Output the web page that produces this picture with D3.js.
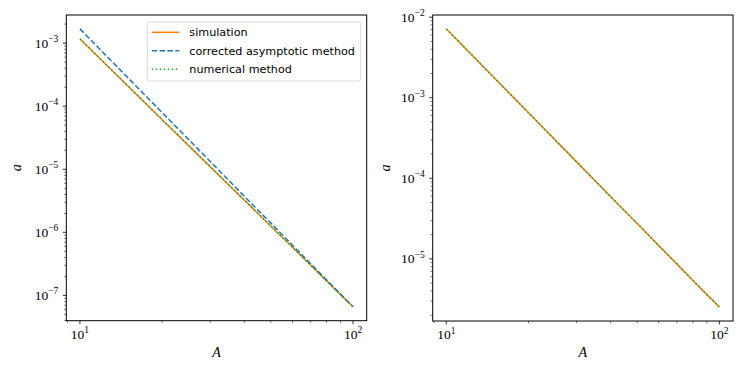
<!DOCTYPE html>
<html>
<head>
<meta charset="utf-8">
<script src="https://cdn.jsdelivr.net/npm/d3@7"></script>
<style>
  body { margin: 0; background: #fff; }
  svg { display: block; }
  .tick-label { font-family: "Liberation Serif", "DejaVu Serif", serif; font-size: 13.5px; fill: #000; }
  .axis-label { font-family: "Liberation Serif", "DejaVu Serif", serif; font-style: italic; font-size: 14px; fill: #000; }
  .legend-text { font-family: "DejaVu Sans", sans-serif; font-size: 11.2px; fill: #000; }
</style>
</head>
<body>
<div id="chart"></div>
<script>
// A values the curves were read at
const A = [10, 20, 30, 40, 50, 60, 70, 80, 90, 100];

// left panel
const leftSimulation = [1.16e-3, 6.1e-5, 1.09e-5, 3.23e-6, 1.25e-6, 5.8e-7, 3.0e-7, 1.7e-7, 1.03e-7, 6.6e-8];
const leftAsymptotic = [1.68e-3, 7.9e-5, 1.33e-5, 3.72e-6, 1.40e-6, 6.25e-7, 3.17e-7, 1.76e-7, 1.05e-7, 6.6e-8];
const leftNumerical  = [1.17e-3, 6.15e-5, 1.10e-5, 3.25e-6, 1.26e-6, 5.8e-7, 3.0e-7, 1.7e-7, 1.03e-7, 6.6e-8];

// right panel
const rightSimulation = [7.15e-3, 6.5e-4, 1.60e-4, 5.9e-5, 2.74e-5, 1.46e-5, 8.6e-6, 5.4e-6, 3.6e-6, 2.52e-6];
const rightNumerical  = [7.15e-3, 6.5e-4, 1.60e-4, 5.9e-5, 2.74e-5, 1.46e-5, 8.6e-6, 5.4e-6, 3.6e-6, 2.52e-6];

const legendLabels = ["simulation", "corrected asymptotic method", "numerical method"];

const W = 747, H = 374;
const svg = d3.select("#chart").append("svg").attr("width", W).attr("height", H);

const styles = {
  simulation: {color: "#ff7f0e", dash: null},
  asymptotic: {color: "#1f77b4", dash: "5.5,2.4"},
  numerical: {color: "#2ca02c", dash: "1.5,2.5"}
};

// log domain with matplotlib-like 5% margins
function logDomain(values) {
  const lo = Math.log10(d3.min(values)), hi = Math.log10(d3.max(values));
  const m = (hi - lo) * 0.05;
  return [Math.pow(10, lo - m), Math.pow(10, hi + m)];
}

function drawPanel(box, series, yLabelX) {
  const g = svg.append("g");
  const x = d3.scaleLog().domain(logDomain(A)).range([box.left, box.right]);
  const allY = series.flatMap(s => s.values);
  const y = d3.scaleLog().domain(logDomain(allY)).range([box.bottom, box.top]);

  const line = d3.line().x((d, i) => x(A[i])).y(d => y(d));

  series.forEach(s => {
    g.append("path")
      .datum(s.values)
      .attr("d", line)
      .attr("fill", "none")
      .attr("stroke", s.style.color)
      .attr("stroke-width", 1.5)
      .attr("stroke-dasharray", s.style.dash);
  });

  // frame
  g.append("rect")
    .attr("x", box.left).attr("y", box.top)
    .attr("width", box.right - box.left).attr("height", box.bottom - box.top)
    .attr("fill", "none").attr("stroke", "#000").attr("stroke-width", 1);

  // x ticks
  const [x0, x1] = x.domain();
  const xMinor = [];
  for (let e = Math.floor(Math.log10(x0)); e <= Math.ceil(Math.log10(x1)); e++) {
    for (let k = 1; k < 10; k++) {
      const v = k * Math.pow(10, e);
      if (v >= x0 && v <= x1) xMinor.push({v, major: k === 1, e});
    }
  }
  xMinor.forEach(t => {
    const px = x(t.v);
    g.append("line").attr("x1", px).attr("x2", px)
      .attr("y1", box.bottom).attr("y2", box.bottom + (t.major ? 3.5 : 2))
      .attr("stroke", "#000").attr("stroke-width", t.major ? 0.8 : 0.6);
    if (t.major) {
      const txt = g.append("text").attr("class", "tick-label")
        .attr("x", px).attr("y", box.bottom + 18).attr("text-anchor", "middle");
      txt.append("tspan").text("10");
      txt.append("tspan").attr("dy", -5.5).attr("font-size", "9.5px").text(t.e);
    }
  });

  // y ticks
  const [y0, y1] = y.domain();
  for (let e = Math.floor(Math.log10(y0)); e <= Math.ceil(Math.log10(y1)); e++) {
    for (let k = 1; k < 10; k++) {
      const v = k * Math.pow(10, e);
      if (v < y0 || v > y1) continue;
      const py = y(v);
      g.append("line").attr("x1", box.left).attr("x2", box.left - (k === 1 ? 3.5 : 2))
        .attr("y1", py).attr("y2", py)
        .attr("stroke", "#000").attr("stroke-width", k === 1 ? 0.8 : 0.6);
      if (k === 1) {
        const txt = g.append("text").attr("class", "tick-label")
          .attr("x", box.left - 8).attr("y", py + 4.5).attr("text-anchor", "end");
        txt.append("tspan").text("10");
        txt.append("tspan").attr("dy", -5.5).attr("font-size", "9.5px").text("\u2212" + (-e));
      }
    }
  }

  // axis labels
  g.append("text").attr("class", "axis-label")
    .attr("x", (box.left + box.right) / 2).attr("y", box.bottom + 36)
    .attr("text-anchor", "middle").text("A");
  g.append("text").attr("class", "axis-label")
    .attr("transform", `translate(${yLabelX},${(box.top + box.bottom) / 2}) rotate(-90)`)
    .attr("text-anchor", "middle").text("a");

  return {x, y};
}

drawPanel({left: 66.3, right: 366.7, top: 15, bottom: 320.7}, [
  {values: leftSimulation, style: styles.simulation},
  {values: leftAsymptotic, style: styles.asymptotic},
  {values: leftNumerical, style: styles.numerical}
], 21);

drawPanel({left: 432.7, right: 733, top: 15, bottom: 321}, [
  {values: rightSimulation, style: styles.simulation},
  {values: rightNumerical, style: styles.numerical}
], 390);

// legend on the left panel
const legend = svg.append("g");
legend.append("rect")
  .attr("x", 147.3).attr("y", 22).attr("width", 213.4).attr("height", 59)
  .attr("rx", 2.5).attr("fill", "#fff").attr("fill-opacity", 0.8)
  .attr("stroke", "#d6d6d6").attr("stroke-width", 0.9);
const legendStyles = [styles.simulation, styles.asymptotic, styles.numerical];
legendLabels.forEach((lab, i) => {
  const cy = 32.3 + i * 18.5;
  legend.append("line")
    .attr("x1", 151.7).attr("x2", 179.3).attr("y1", cy).attr("y2", cy)
    .attr("stroke", legendStyles[i].color).attr("stroke-width", 1.5)
    .attr("stroke-dasharray", legendStyles[i].dash);
  legend.append("text").attr("class", "legend-text")
    .attr("x", 189.3).attr("y", cy + 4).text(lab);
});
</script>
</body>
</html>
